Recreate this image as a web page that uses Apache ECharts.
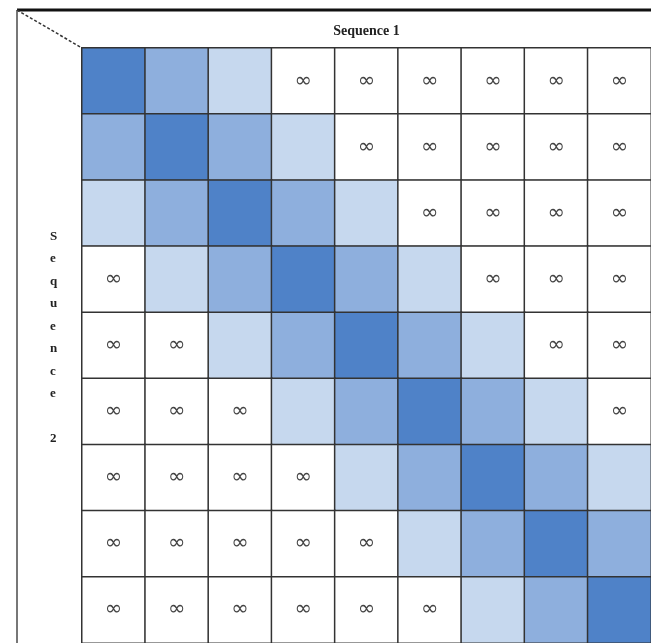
<!doctype html>
<html lang="en">
<head>
<meta charset="UTF-8">
<title>Sequence band matrix</title>
<script src="https://cdn.jsdelivr.net/npm/echarts@6/dist/echarts.min.js"></script>
<style>
  html, body { margin: 0; padding: 0; background: #fff; }
  #main { width: 651px; height: 643px; }
</style>
</head>
<body>
<div id="main"></div>
<script>
// columns = Sequence 1, rows = Sequence 2
var cols = ['1', '2', '3', '4', '5', '6', '7', '8', '9'];
var rows = ['1', '2', '3', '4', '5', '6', '7', '8', '9'];

// 0 = darkest, 1 = medium, 2 = light, null = ∞ (outside band)
var row1 = [0, 1, 2, null, null, null, null, null, null];
var row2 = [1, 0, 1, 2, null, null, null, null, null];
var row3 = [2, 1, 0, 1, 2, null, null, null, null];
var row4 = [null, 2, 1, 0, 1, 2, null, null, null];
var row5 = [null, null, 2, 1, 0, 1, 2, null, null];
var row6 = [null, null, null, 2, 1, 0, 1, 2, null];
var row7 = [null, null, null, null, 2, 1, 0, 1, 2];
var row8 = [null, null, null, null, null, 2, 1, 0, 1];
var row9 = [null, null, null, null, null, null, 2, 1, 0];
var matrix = [row1, row2, row3, row4, row5, row6, row7, row8, row9];

var levelColors = ['#4f82c8', '#8eafdd', '#c6d8ee'];

var data = [];
for (var r = 0; r < matrix.length; r++) {
    for (var c = 0; c < matrix[r].length; c++) {
        var v = matrix[r][c];
        data.push([c, r, v === null ? 3 : v]);
    }
}

var myChart = echarts.init(document.getElementById('main'));
var option = {
    animation: false,
    grid: { left: 82, top: 48, width: 579.6, height: 597 },
    xAxis: {
        type: 'category',
        data: cols,
        position: 'top',
        name: 'Sequence 1',
        nameLocation: 'middle',
        nameGap: 10,
        nameTextStyle: { fontFamily: 'Liberation Serif', fontWeight: 'bold', fontSize: 14, color: '#222' },
        axisLine: { show: false },
        axisTick: { show: false },
        axisLabel: { show: false },
        splitLine: { show: false }
    },
    yAxis: {
        type: 'category',
        data: rows,
        inverse: true,
        axisLine: { show: false },
        axisTick: { show: false },
        axisLabel: { show: false },
        splitLine: { show: false }
    },
    visualMap: {
        show: false,
        type: 'piecewise',
        dimension: 2,
        pieces: [
            { value: 0, color: levelColors[0] },
            { value: 1, color: levelColors[1] },
            { value: 2, color: levelColors[2] },
            { value: 3, color: '#ffffff' }
        ]
    },
    graphic: [
        { type: 'line', shape: { x1: 17, y1: 10, x2: 651, y2: 10 }, style: { stroke: '#111', lineWidth: 3 } },
        { type: 'line', shape: { x1: 17, y1: 10, x2: 17, y2: 643 }, style: { stroke: '#777', lineWidth: 2 } },
        { type: 'line', shape: { x1: 17, y1: 10, x2: 82, y2: 48 }, style: { stroke: '#333', lineWidth: 1.5, lineDash: [3, 2] } },
        { type: 'line', shape: { x1: 82, y1: 48, x2: 651, y2: 48 }, style: { stroke: '#333', lineWidth: 2 } },
        { type: 'line', shape: { x1: 82, y1: 48, x2: 82, y2: 643 }, style: { stroke: '#333', lineWidth: 2 } },
        {
            type: 'text', left: 50, top: 225,
            style: {
                text: 'S\ne\nq\nu\ne\nn\nc\ne\n\n2',
                fontFamily: 'Liberation Serif', fontWeight: 'bold', fontSize: 13,
                fill: '#222', lineHeight: 22.5, align: 'center', width: 12
            }
        }
    ],
    series: [{
        type: 'heatmap',
        data: data,
        itemStyle: { borderColor: '#333', borderWidth: 1.5 },
        label: {
            show: true,
            fontFamily: 'DejaVu Sans',
            fontSize: 21,
            color: '#444',
            formatter: function (p) { return p.value[2] === 3 ? '\u221e' : ''; }
        },
        emphasis: { disabled: true }
    }]
};
myChart.setOption(option);
</script>
</body>
</html>
